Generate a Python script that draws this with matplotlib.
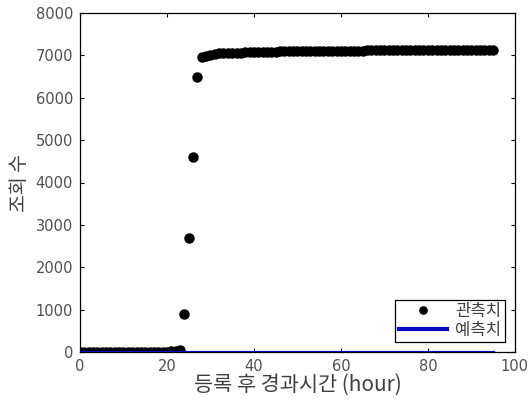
import matplotlib
matplotlib.use('Agg')
import matplotlib.pyplot as plt

plt.rcParams['font.family'] = ['Noto Sans CJK KR', 'DejaVu Sans']

# observed hits per hour since registration
hours = list(range(0, 96))
observed = [0] * 20 + [10, 20, 30, 40,
            900, 2700, 4600, 6480, 6960, 6980, 7010, 7040, 7050, 7055,
            7060, 7060, 7065, 7065, 7070, 7075, 7080, 7080, 7085, 7085,
            7090, 7090, 7095, 7095, 7100, 7100, 7100, 7105, 7105, 7105,
            7110, 7110, 7110, 7110, 7110, 7115, 7115, 7115, 7115, 7115,
            7115, 7115, 7120, 7120, 7120, 7120, 7120, 7120, 7120, 7120,
            7120, 7120, 7120, 7120, 7120, 7120, 7120, 7120, 7120, 7120,
            7120, 7120, 7120, 7120, 7120, 7120, 7120, 7120, 7120, 7120,
            7120, 7120]
pred_hours = [0, 95]
predicted = [0, 0]

xticks = [0, 20, 40, 60, 80, 100]
yticks = [0, 1000, 2000, 3000, 4000, 5000, 6000, 7000, 8000]

fig = plt.figure(figsize=(5.28, 4.0), dpi=100)
ax = fig.add_axes([0.1515, 0.12, 0.8235, 0.8475])

ax.plot(hours, observed, 'o', color='black', markersize=6.5, label='관측치', zorder=2)
ax.plot(pred_hours, predicted, '-', color='#0808c0', linewidth=2.3, label='예측치', zorder=3)

ax.set_xlim(0, 100)
ax.set_ylim(0, 8000)
ax.set_xticks(xticks)
ax.set_yticks(yticks)
ax.tick_params(direction='in', top=True, right=True, labelsize=10.5,
               labelcolor='#505050', length=3, width=0.8, pad=5,
               labelfontfamily='DejaVu Sans')
for s in ax.spines.values():
    s.set_linewidth(0.9)

ax.set_xlabel('등록 후 경과시간 (hour)', fontsize=15, color='#404040', labelpad=0)
ax.set_ylabel('조회 수', fontsize=14, color='#404040', labelpad=4)

leg = ax.legend(loc='lower right', fontsize=12, fancybox=False, framealpha=1,
                edgecolor='black', borderpad=0.2, handlelength=2.9,
                borderaxespad=0.6, labelspacing=0.1, handletextpad=0.5,
                markerscale=0.8)
leg.get_frame().set_linewidth(0.9)
leg.get_lines()[1].set_linewidth(3)
for t in leg.get_texts():
    t.set_color('#404040')

fig.savefig('out.png', dpi=100)
